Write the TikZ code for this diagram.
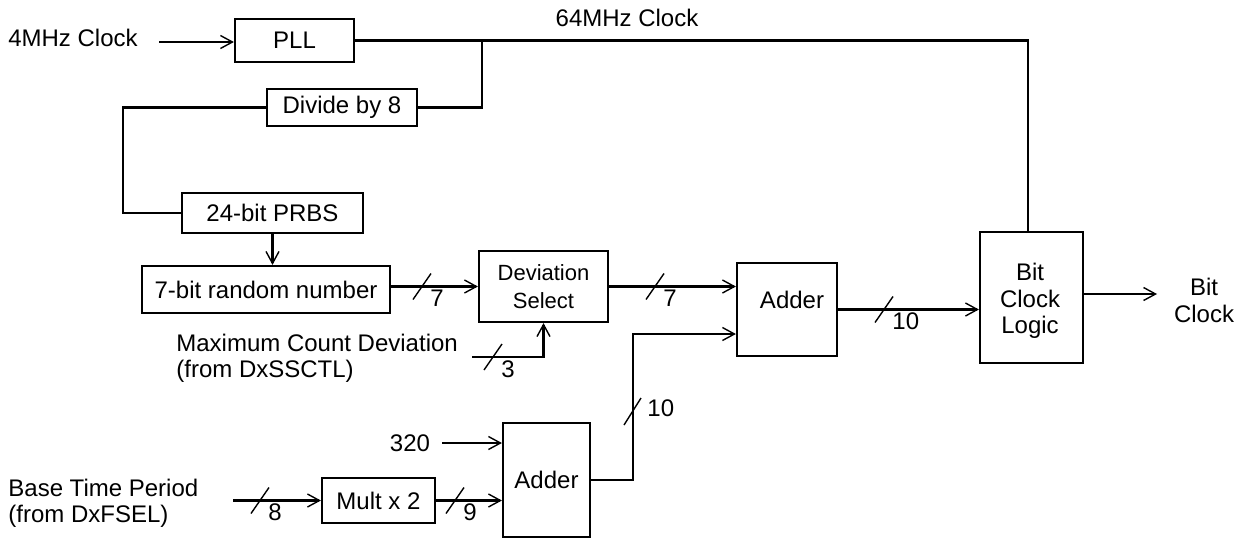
\documentclass[tikz,border=0pt]{standalone}
\usepackage{fontspec}
\setmainfont{Liberation Sans}
\usetikzlibrary{arrows.meta,calc}
\newcommand{\busmark}[4]{%
  \draw[slash] (#2-9,#3+13) -- (#2+9,#3-13);
  \node[lbl, anchor=west] (#1) at (#2+8,#3+12) {#4};}
\begin{document}
\begin{tikzpicture}[x=0.5pt,y=-0.5pt,
  font=\fontsize{12}{13.3}\selectfont,
  bx/.style 2 args={draw, line width=1.1pt, inner sep=0pt, minimum width=#1*0.5pt, minimum height=#2*0.5pt},
  arr/.style={-{Straight Barb[length=6pt,width=6.5pt,line width=0.7pt]}},
  wire/.style={line width=1.1pt},
  slash/.style={line width=0.7pt},
  lbl/.style={inner sep=0pt},
]
\useasboundingbox (0,0) rectangle (1246,541);

% boxes
\node[bx={119}{43}] (pll) at (294.5,40.5) {PLL};
\node[bx={150}{37}] (div) at (342,107.5) {Divide by 8};
\node[bx={181}{40}] (prbs) at (272.5,213) {24-bit PRBS};
\node[bx={248}{47}] (rnd) at (266,289.5) {7-bit random number};
\node[bx={129}{71}, align=center, font=\fontsize{11}{14}\selectfont] (dev) at (543.5,286.5) {Deviation\\Select};
\node[bx={100}{93}] (add1) at (787,309.5) {};
\node[lbl] (add1t) at (792,300) {Adder};
\node[bx={87}{114}] (add2) at (546.5,480) {Adder};
\node[bx={113}{45}] (mult) at (378.5,500.5) {Mult x 2};
\node[bx={103}{131}] (bcl) at (1031.5,297.5) {};
\node[lbl, align=center, font=\fontsize{12}{13.25}\selectfont] (bclt) at (1030,301) {Bit\\Clock\\Logic};

% free labels
\node[lbl] (in4) at (73,38) {4MHz Clock};
\node[lbl] (c64) at (627,18) {64MHz Clock};
\node[lbl, align=left, anchor=west, font=\fontsize{12}{13}\selectfont] (mcd) at (176,358) {Maximum Count Deviation\\(from DxSSCTL)};
\node[lbl] (t320) at (410,443) {320};
\node[lbl, align=left, anchor=west, font=\fontsize{12}{13}\selectfont] (btp) at (8,503) {Base Time Period\\(from DxFSEL)};
\node[lbl, align=center, font=\fontsize{12}{13.5}\selectfont] (bco) at (1204,300) {Bit\\Clock};

% coordinates
\coordinate (a4) at (159,42);
\coordinate (j1) at (482,41);
\coordinate (tr) at (1028,41);
\coordinate (lc) at (123,160);
\coordinate (mc) at (472,357);
\coordinate (cu) at (633,334);
\coordinate (bo) at (1157,294);
\coordinate (c320) at (442,443);
\coordinate (cb) at (233,500.5);

% connectors
\draw[wire,arr] (a4) -- (a4 -| pll.west);
\draw[wire] (pll.east) -- (pll.east -| tr) -- (tr |- bcl.north);
\draw[wire] (pll.east -| j1) |- (div.east);
\draw[wire] (div.west) -| (lc) |- (prbs.west);
\draw[wire,arr] (prbs.south) -- (prbs.south |- rnd.north);
\draw[wire,arr] (rnd.east |- dev.west) -- (dev.west);
\draw[wire,arr] (mc) -| (dev.south);
\draw[wire,arr] (dev.east) -- (dev.east -| add1.west);
\draw[wire,arr] (add2.east) -| (cu) -- (cu -| add1.west);
\draw[wire,arr] (add1.east) -- (add1.east -| bcl.west);
\draw[wire,arr] (bcl.east |- bo) -- (bo);
\draw[wire,arr] (c320) -- (c320 -| add2.west);
\draw[wire,arr] (mult.east) -- (mult.east -| add2.west);
\draw[wire,arr] (cb) -- (mult.west);

% bus marks
\busmark{n7a}{422}{286.5}{7}
\busmark{n3}{493}{357}{3}
\busmark{n7b}{655}{286.5}{7}
\busmark{n10a}{884}{309.5}{10}
\busmark{n8}{260}{500.5}{8}
\busmark{n9}{455}{500.5}{9}
\draw[slash] (624,425) -- (641,398);
\node[lbl, anchor=west] (n10b) at (647,408) {10};
\end{tikzpicture}
\end{document}
